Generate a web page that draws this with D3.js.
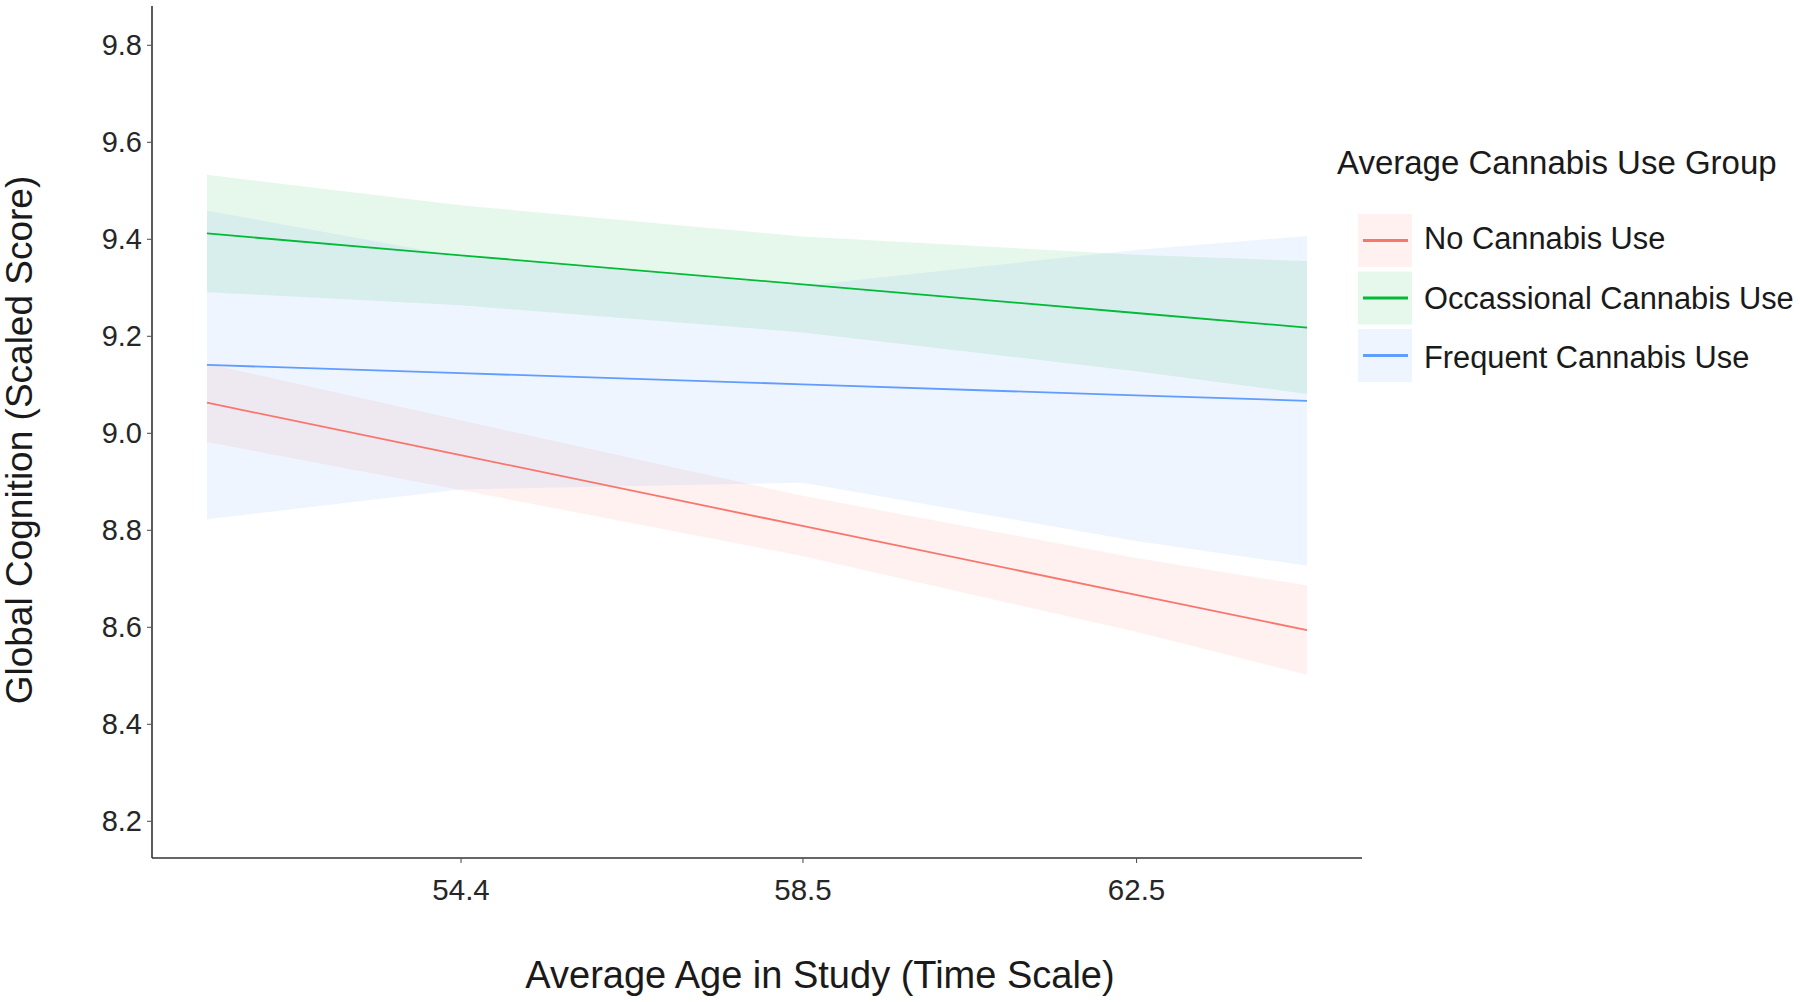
<!DOCTYPE html>
<html>
<head>
<meta charset="utf-8">
<script src="https://cdn.jsdelivr.net/npm/d3@7/dist/d3.min.js"></script>
<style>
  html, body { margin: 0; padding: 0; background: #ffffff; }
  svg { display: block; }
  text { font-family: "Liberation Sans", Arial, Helvetica, sans-serif; }
</style>
</head>
<body>
<svg id="chart" width="1800" height="1002"></svg>
<script>
// ---- data ----
const ages = [51.36, 54.4, 58.5, 62.5, 64.55];
const groups = ["No Cannabis Use", "Occassional Cannabis Use", "Frequent Cannabis Use"];
const groupColors = ["#F8766D", "#00BA38", "#619CFF"];

const noUseFit   = [9.062, 8.954, 8.808, 8.666, 8.593];
const noUseLower = [8.981, 8.882, 8.746, 8.590, 8.501];
const noUseUpper = [9.143, 9.026, 8.870, 8.742, 8.685];

const occFit   = [9.411, 9.366, 9.306, 9.247, 9.217];
const occLower = [9.290, 9.263, 9.207, 9.127, 9.080];
const occUpper = [9.532, 9.469, 9.405, 9.367, 9.354];

const freqFit   = [9.140, 9.123, 9.100, 9.077, 9.066];
const freqLower = [8.822, 8.883, 8.897, 8.777, 8.726];
const freqUpper = [9.458, 9.363, 9.303, 9.377, 9.406];

const xTickValues = [54.4, 58.5, 62.5];
const yTickValues = [8.2, 8.4, 8.6, 8.8, 9.0, 9.2, 9.4, 9.6, 9.8];

const xTitle = "Average Age in Study (Time Scale)";
const yTitle = "Global Cognition (Scaled Score)";
const legendTitle = "Average Cannabis Use Group";

// ---- build series ----
const series = [
  { name: groups[0], color: groupColors[0], fit: noUseFit, lower: noUseLower, upper: noUseUpper },
  { name: groups[1], color: groupColors[1], fit: occFit,   lower: occLower,   upper: occUpper },
  { name: groups[2], color: groupColors[2], fit: freqFit,  lower: freqLower,  upper: freqUpper }
].map(s => ({ ...s, pts: ages.map((a, i) => ({ x: a, y: s.fit[i], lo: s.lower[i], hi: s.upper[i] })) }));

// ---- layout ----
const svg = d3.select("#chart");
const plot = { left: 152, right: 1362, top: 6, bottom: 858 };

const xExt = d3.extent(ages);
const xPad = (xExt[1] - xExt[0]) * 0.05;
const x = d3.scaleLinear().domain([xExt[0] - xPad, xExt[1] + xPad]).range([plot.left, plot.right]);
const y = d3.scaleLinear().domain([8.1233, 9.880]).range([plot.bottom, plot.top]);

// ribbons
const area = d3.area().x(d => x(d.x)).y0(d => y(d.lo)).y1(d => y(d.hi));
svg.append("g").selectAll("path").data(series).join("path")
  .attr("d", d => area(d.pts))
  .attr("fill", d => d.color)
  .attr("fill-opacity", 0.1)
  .attr("stroke", "none");

// lines
const line = d3.line().x(d => x(d.x)).y(d => y(d.y));
svg.append("g").selectAll("path").data(series).join("path")
  .attr("d", d => line(d.pts))
  .attr("fill", "none")
  .attr("stroke", d => d.color)
  .attr("stroke-width", 1.8);

// axes
const yAxis = d3.axisLeft(y).tickValues(yTickValues).tickFormat(d3.format(".1f")).tickSize(5).tickSizeOuter(0).tickPadding(5);
const gy = svg.append("g").attr("transform", `translate(${plot.left},0)`).call(yAxis);
const xAxis = d3.axisBottom(x).tickValues(xTickValues).tickFormat(d3.format(".1f")).tickSize(5).tickSizeOuter(0).tickPadding(16);
const gx = svg.append("g").attr("transform", `translate(0,${plot.bottom})`).call(xAxis);

[gx, gy].forEach(g => {
  g.select(".domain").attr("stroke", "#333333").attr("stroke-width", 1.6);
  g.selectAll(".tick line").attr("stroke", "#555555").attr("stroke-width", 1.1);
  g.selectAll(".tick text").attr("fill", "#262626")
    .style("font-family", '"Liberation Sans", Arial, sans-serif');
});
gy.selectAll(".tick text").style("font-size", "29px");
gx.selectAll(".tick text").style("font-size", "29.5px");
gy.select(".domain").attr("d", `M0,${plot.top}V${plot.bottom}`);
gx.select(".domain").attr("d", `M${plot.left},0H${plot.right}`);

// axis titles
svg.append("text")
  .attr("x", 820).attr("y", 988)
  .attr("text-anchor", "middle")
  .attr("fill", "#1a1a1a")
  .style("font-size", "38px")
  .text(xTitle);

svg.append("text")
  .attr("transform", "translate(32,440) rotate(-90)")
  .attr("text-anchor", "middle")
  .attr("fill", "#1a1a1a")
  .style("font-size", "37px")
  .text(yTitle);

// legend
const legend = svg.append("g");
legend.append("text")
  .attr("x", 1337).attr("y", 174)
  .attr("fill", "#1a1a1a")
  .style("font-size", "33px")
  .text(legendTitle);

const keyX = 1358, keyW = 54, keyH = 53, keyTop = 214, keyStep = 57.5;
const items = legend.selectAll("g.item").data(series).join("g").attr("class", "item")
  .attr("transform", (d, i) => `translate(${keyX},${keyTop + i * keyStep})`);
items.append("rect")
  .attr("width", keyW).attr("height", keyH)
  .attr("fill", d => d.color).attr("fill-opacity", 0.1);
items.append("line")
  .attr("x1", 5).attr("x2", keyW - 4)
  .attr("y1", keyH / 2).attr("y2", keyH / 2)
  .attr("stroke", d => d.color).attr("stroke-width", 2.8);
items.append("text")
  .attr("x", 1424 - keyX).attr("y", (d, i) => keyH / 2 + 10.5 + (i - 1) * 2)
  .attr("fill", "#1a1a1a")
  .style("font-size", "30.8px")
  .text(d => d.name);
</script>
</body>
</html>
